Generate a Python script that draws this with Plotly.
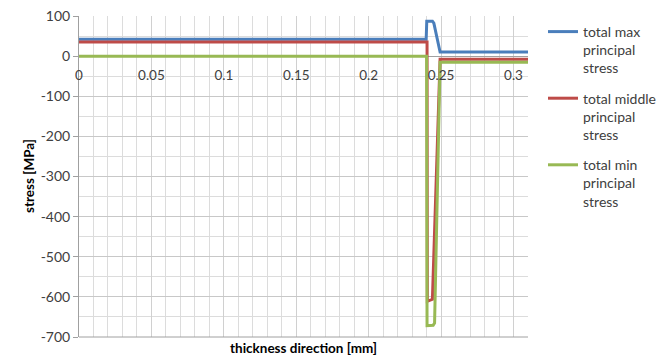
import plotly.graph_objects as go

# Data
max_x = [0, 0.2397, 0.2401, 0.2440, 0.2450, 0.2493, 0.31]
max_y = [42, 42, 87, 87, 82, 10, 10]

mid_x = [0, 0.2403, 0.2405, 0.2440, 0.2493, 0.31]
mid_y = [35, 35, -611, -606, -8, -8]

min_x = [0, 0.2400, 0.2403, 0.2445, 0.2455, 0.2493, 0.31]
min_y = [0, 0, -672, -671, -665, -15, -15]

names = ["total max<br>principal<br>stress",
         "total middle<br>principal<br>stress",
         "total min<br>principal<br>stress"]
colors = ["#4A7EBB", "#BE4B48", "#98B954"]

x_ticks = [0, 0.05, 0.1, 0.15, 0.2, 0.25, 0.3]
x_ticklabels = ["0", "0.05", "0.1", "0.15", "0.2", "0.25", "0.3"]
y_ticks = [100, 0, -100, -200, -300, -400, -500, -600, -700]
y_ticklabels = ["100", "0", "-100", "-200", "-300", "-400", "-500", "-600", "-700"]

FONT = "Lato"

fig = go.Figure()
for i, (xs, ys) in enumerate([(max_x, max_y), (mid_x, mid_y), (min_x, min_y)]):
    fig.add_trace(go.Scatter(x=xs, y=ys, mode="lines", name=names[i],
                             legendgroup=f"g{i}",
                             line=dict(color=colors[i], width=3)))

L, R, T, B = 79, 140, 16, 19
W, H = 668, 356
plot_w = W - L - R
plot_h = H - T - B
zero_pos = (337 - 56) / plot_h

fig.update_layout(
    width=W, height=H,
    margin=dict(l=L, r=R, t=T, b=B, autoexpand=False),
    plot_bgcolor="white", paper_bgcolor="white",
    font=dict(family=FONT, size=13, color="#404040"),
    showlegend=True,
    legend=dict(x=(543 - L) / plot_w, y=1.0, xanchor="left", yanchor="top",
                valign="top", tracegroupgap=9,
                font=dict(family=FONT, size=14, color="#404040"),
                itemwidth=30),
    xaxis=dict(range=[0, 0.31], tickvals=x_ticks, ticktext=x_ticklabels,
               anchor="free", position=zero_pos,
               showgrid=True, gridcolor="#d0d0d0", gridwidth=1,
               minor=dict(dtick=0.01, showgrid=True, gridcolor="#dcdcdc", gridwidth=1),
               showline=False, zeroline=False, ticks="", ticklabelstandoff=9,
               tickfont=dict(family=FONT, size=13.5, color="#404040")),
    yaxis=dict(range=[-700, 100], tickvals=y_ticks, ticktext=y_ticklabels,
               showgrid=True, gridcolor="#c8c8c8", gridwidth=1,
               minor=dict(dtick=50, showgrid=True, gridcolor="#dcdcdc", gridwidth=1),
               showline=True, linecolor="#a0a0a0", linewidth=1,
               ticks="outside", ticklen=5, tickcolor="#a0a0a0",
               zeroline=True, zerolinecolor="#a0a0a0", zerolinewidth=1,
               tickfont=dict(family=FONT, size=14, color="#404040")),
    annotations=[
        dict(text="<b>thickness direction [mm]</b>", xref="paper", yref="paper",
             x=0.5, y=0, yshift=-11, xanchor="center", yanchor="middle",
             showarrow=False, font=dict(family=FONT, size=13.5, color="#000000")),
        dict(text="<b>stress [MPa]</b>", xref="paper", yref="paper",
             x=(29 - L) / plot_w, y=(337 - 176) / plot_h, textangle=-90,
             xanchor="center", yanchor="middle",
             showarrow=False, font=dict(family=FONT, size=13.5, color="#000000")),
    ],
    shapes=[dict(type="line", xref="paper", yref="paper", x0=0, x1=1, y0=0, y1=0,
                 line=dict(color="#a0a0a0", width=1))],
)

fig.write_html("out.html")
